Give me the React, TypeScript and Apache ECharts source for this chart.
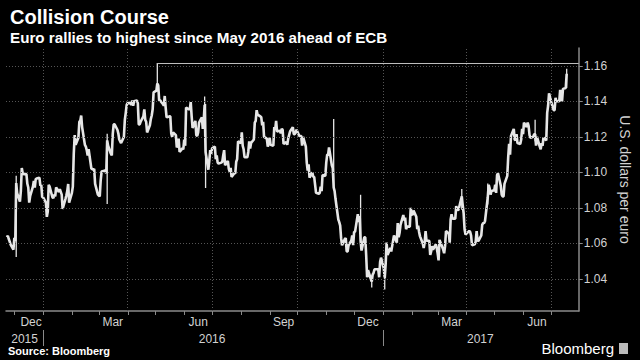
import React, { useEffect, useRef } from "react";
import * as echarts from "echarts";

// Daily EUR/USD closes, one array per month (weekdays in order from the start date)
const nov15 = [1.0635, 1.0643, 1.0625, 1.061, 1.0593, 1.0565];
const dec15 = [1.0632, 1.0613, 1.094, 1.0883, 1.0835, 1.0895, 1.1025, 1.0995, 1.099, 1.099, 1.0936, 1.0915, 1.083, 1.0866, 1.092, 1.0952, 1.0915, 1.0962, 1.0965, 1.097, 1.0925, 1.093, 1.086];
const jan16 = [1.086, 1.083, 1.075, 1.078, 1.093, 1.092, 1.086, 1.0855, 1.0875, 1.0865, 1.0915, 1.089, 1.0905, 1.089, 1.0875, 1.0795, 1.085, 1.087, 1.0895, 1.0935, 1.083];
const feb16 = [1.0885, 1.092, 1.1105, 1.121, 1.1155, 1.1195, 1.1285, 1.129, 1.132, 1.1255, 1.1155, 1.1145, 1.1125, 1.1095, 1.113, 1.102, 1.102, 1.1015, 1.102, 1.0935, 1.0875];
const mar16 = [1.087, 1.0865, 1.0955, 1.1005, 1.101, 1.101, 1.0995, 1.118, 1.115, 1.1105, 1.1095, 1.1215, 1.127, 1.127, 1.124, 1.122, 1.1185, 1.1175, 1.1165, 1.12, 1.1295, 1.1335, 1.138];
const apr16 = [1.139, 1.139, 1.138, 1.1405, 1.1375, 1.14, 1.1405, 1.139, 1.127, 1.127, 1.1285, 1.1315, 1.1355, 1.1295, 1.1285, 1.1225, 1.1265, 1.13, 1.132, 1.1355, 1.145];
const may16 = [1.146, 1.15, 1.149, 1.1405, 1.1405, 1.1385, 1.1375, 1.143, 1.1365, 1.131, 1.1315, 1.1315, 1.122, 1.12, 1.1225, 1.121, 1.114, 1.115, 1.119, 1.1115, 1.1135, 1.113];
const jun16 = [1.1185, 1.115, 1.1365, 1.1355, 1.1355, 1.1395, 1.1315, 1.125, 1.129, 1.121, 1.1205, 1.1225, 1.128, 1.131, 1.1245, 1.1295, 1.138, 1.1115, 1.1015, 1.1065, 1.1125, 1.1105];
const jul16 = [1.1135, 1.1145, 1.1075, 1.1095, 1.1055, 1.105, 1.1055, 1.106, 1.1095, 1.1125, 1.104, 1.1065, 1.102, 1.1005, 1.1025, 1.0975, 1.0995, 1.0995, 1.106, 1.1075, 1.1175];
const aug16 = [1.1165, 1.1225, 1.115, 1.113, 1.1085, 1.1085, 1.1115, 1.1175, 1.1135, 1.1165, 1.1185, 1.128, 1.129, 1.135, 1.1325, 1.1315, 1.131, 1.1265, 1.1285, 1.12, 1.119, 1.1145, 1.116];
const sep16 = [1.1195, 1.1155, 1.115, 1.1255, 1.124, 1.129, 1.123, 1.1235, 1.122, 1.1245, 1.124, 1.116, 1.117, 1.1155, 1.119, 1.121, 1.123, 1.1255, 1.1215, 1.1215, 1.1225, 1.124];
const oct16 = [1.1205, 1.1205, 1.1205, 1.115, 1.12, 1.1145, 1.1055, 1.101, 1.1045, 1.097, 1.1, 1.0975, 1.0975, 1.093, 1.0885, 1.088, 1.0885, 1.092, 1.0895, 1.0985, 1.098];
const nov16 = [1.1055, 1.11, 1.11, 1.114, 1.104, 1.1025, 1.0915, 1.0895, 1.085, 1.0735, 1.072, 1.07, 1.063, 1.059, 1.0625, 1.063, 1.0555, 1.0555, 1.059, 1.0615, 1.0645, 1.059];
const dec16 = [1.0665, 1.0665, 1.0765, 1.072, 1.0755, 1.0615, 1.056, 1.0635, 1.0635, 1.0535, 1.041, 1.045, 1.04, 1.0385, 1.0425, 1.0435, 1.0455, 1.0455, 1.0455, 1.041, 1.0495, 1.052];
const jan17 = [1.046, 1.0405, 1.0485, 1.0605, 1.0535, 1.0575, 1.0555, 1.0585, 1.0615, 1.0645, 1.0605, 1.0715, 1.0635, 1.066, 1.0705, 1.076, 1.073, 1.0745, 1.068, 1.0695, 1.0695, 1.08];
const feb17 = [1.0765, 1.076, 1.0785, 1.075, 1.068, 1.07, 1.0665, 1.064, 1.06, 1.0575, 1.0605, 1.067, 1.0615, 1.0615, 1.0535, 1.0555, 1.0585, 1.0565, 1.0595, 1.0575];
const mar17 = [1.0545, 1.0505, 1.062, 1.058, 1.0565, 1.0545, 1.0585, 1.067, 1.0655, 1.0605, 1.0735, 1.0765, 1.074, 1.074, 1.081, 1.0795, 1.0785, 1.08, 1.0865, 1.0815, 1.077, 1.068, 1.065];
const apr17 = [1.0665, 1.067, 1.0665, 1.0645, 1.059, 1.0595, 1.061, 1.067, 1.0615, 1.0615, 1.0645, 1.0705, 1.0715, 1.0715, 1.0725, 1.086, 1.093, 1.091, 1.0875, 1.0895];
const may17 = [1.09, 1.093, 1.0885, 1.0985, 1.0995, 1.0925, 1.0875, 1.0865, 1.0865, 1.0935, 1.098, 1.1085, 1.116, 1.11, 1.1205, 1.1245, 1.1185, 1.118, 1.1215, 1.1165, 1.116, 1.1185, 1.1245];
const jun17 = [1.1215, 1.128, 1.1255, 1.128, 1.126, 1.121, 1.1195, 1.12, 1.1215, 1.1215, 1.115, 1.12, 1.1145, 1.113, 1.1165, 1.115, 1.1195, 1.118, 1.1335, 1.1375, 1.1445, 1.1425];
const jul17 = [1.1365, 1.135, 1.135, 1.142, 1.14, 1.14, 1.1465, 1.1415, 1.14, 1.147, 1.1475, 1.1555];

const monthStarts: [string, number[]][] = [
  ["2015-11-23", nov15], ["2015-12-01", dec15], ["2016-01-01", jan16], ["2016-02-01", feb16],
  ["2016-03-01", mar16], ["2016-04-01", apr16], ["2016-05-02", may16], ["2016-06-01", jun16],
  ["2016-07-01", jul16], ["2016-08-01", aug16], ["2016-09-01", sep16], ["2016-10-03", oct16],
  ["2016-11-01", nov16], ["2016-12-01", dec16], ["2017-01-02", jan17], ["2017-02-01", feb17],
  ["2017-03-01", mar17], ["2017-04-03", apr17], ["2017-05-01", may17], ["2017-06-01", jun17],
  ["2017-07-03", jul17],
];

// Notable intraday ranges: [date, low, high]
const wicks: [string, number, number][] = [
  ["2015-12-03", 1.0524, 1.0981],
  ["2016-03-10", 1.0822, 1.1218],
  ["2016-05-03", 1.1468, 1.1616],
  ["2016-06-23", 1.13, 1.1427],
  ["2016-06-24", 1.0912, 1.1385],
  ["2016-11-09", 1.0905, 1.13],
  ["2016-12-08", 1.06, 1.0874],
  ["2016-12-20", 1.0352, 1.042],
  ["2017-01-03", 1.0341, 1.0454],
  ["2017-03-27", 1.079, 1.0906],
  ["2017-04-24", 1.082, 1.0937],
  ["2017-06-14", 1.1175, 1.1296],
  ["2017-07-18", 1.1475, 1.1583],
];

const refHigh = 1.1616;
const refStart = "2016-05-03";

const yTicks = [1.04, 1.06, 1.08, 1.1, 1.12, 1.14, 1.16];
const quarterLines = ["2016-01-01", "2016-04-01", "2016-07-01", "2016-10-01", "2017-01-01", "2017-04-01", "2017-07-01"];
const monthTicks = [
  "2015-12-01", "2016-01-01", "2016-02-01", "2016-03-01", "2016-04-01", "2016-05-01", "2016-06-01",
  "2016-07-01", "2016-08-01", "2016-09-01", "2016-10-01", "2016-11-01", "2016-12-01", "2017-01-01",
  "2017-02-01", "2017-03-01", "2017-04-01", "2017-05-01", "2017-06-01", "2017-07-01",
];
const monthLabels: [string, string][] = [
  ["2015-12-19", "Dec"], ["2016-03-16", "Mar"], ["2016-06-16", "Jun"], ["2016-09-16", "Sep"],
  ["2016-12-16", "Dec"], ["2017-03-16", "Mar"], ["2017-06-16", "Jun"],
];
const yearLabels: [string, string][] = [["2015-12-12", "2015"], ["2016-07-01", "2016"], ["2017-04-16", "2017"]];
const yearSeparators = ["2016-01-01", "2017-01-01"];

const X_MIN = "2015-11-22";
const X_MAX = "2017-07-31";
const Y_MIN = 1.022;
const Y_MAX = 1.17;

const ts = (s: string) => Date.parse(s + "T00:00:00Z");

function buildDaily(): [number, number][] {
  const out: [number, number][] = [];
  for (const [startIso, values] of monthStarts) {
    const d = new Date(startIso + "T00:00:00Z");
    let i = 0;
    while (i < values.length) {
      const wd = d.getUTCDay();
      if (wd !== 0 && wd !== 6) {
        out.push([d.getTime(), values[i]]);
        i++;
      }
      d.setUTCDate(d.getUTCDate() + 1);
    }
  }
  return out;
}

const FONT = "'Liberation Sans', Arial, sans-serif";
const AXIS_GRAY = "#8a8a8a";
const LABEL = "#d2d2d2";
const CLEAR = "rgba(0,0,0,0)";

export default function App() {
  const ref = useRef<HTMLDivElement>(null);
  useEffect(() => {
    if (!ref.current) return;
    const chart = echarts.init(ref.current, undefined, { renderer: "svg" });
    const daily = buildDaily();
    const option: any = {
      animation: false,
      backgroundColor: "#000",
      textStyle: { fontFamily: FONT },
      title: [
        { text: "Collision Course", left: 5, top: 2, textStyle: { color: "#fff", fontSize: 20, fontWeight: "bold", fontFamily: FONT } },
        { text: "Euro rallies to highest since May 2016 ahead of ECB", left: 5, top: 25, textStyle: { color: "#fff", fontSize: 15.2, fontWeight: "bold", fontFamily: FONT } },
      ],
      grid: { left: 6, right: 54, top: 48, bottom: 49 },
      xAxis: {
        type: "time",
        min: ts(X_MIN),
        max: ts(X_MAX),
        axisLine: { show: true, lineStyle: { color: AXIS_GRAY, width: 1.5 } },
        axisTick: { show: false },
        axisLabel: { show: false },
        splitLine: { show: false },
      },
      yAxis: {
        type: "value",
        position: "right",
        min: Y_MIN,
        max: Y_MAX,
        axisLine: { show: true, lineStyle: { color: AXIS_GRAY, width: 1.5 } },
        axisTick: { show: true, length: 4, customValues: yTicks, lineStyle: { color: AXIS_GRAY } },
        axisLabel: { customValues: yTicks, color: LABEL, fontSize: 12, margin: 5, formatter: (v: number) => v.toFixed(2) },
        splitLine: { show: false },
        name: "U.S. dollars per euro",
        nameLocation: "middle",
        nameRotate: -90,
        nameGap: 32,
        nameTextStyle: { color: LABEL, fontSize: 14 },
      },
      series: [
        {
          name: "grid",
          type: "line",
          data: [],
          z: 1,
          silent: true,
          markLine: {
            silent: true,
            symbol: ["none", "none"],
            label: { show: false },
            lineStyle: { color: "#555", type: [1, 2], width: 1 },
            data: [
              ...quarterLines.map((q) => ({ xAxis: ts(q) })),
              ...yTicks.map((v) => ({ yAxis: v })),
            ],
          },
        },
        {
          name: "EURUSD",
          type: "line",
          data: daily,
          symbol: "none",
          z: 3,
          lineStyle: { color: "#e6e6e6", width: 2.6 },
          markLine: {
            silent: true,
            symbol: ["none", "none"],
            label: { show: false },
            lineStyle: { color: "#bdbdbd", type: "solid", width: 1 },
            data: [[{ coord: [ts(refStart), refHigh] }, { coord: [ts(X_MAX), refHigh] }]],
          },
        },
        {
          name: "range",
          type: "custom",
          z: 3,
          data: wicks.map(([d, lo, hi]) => [ts(d), lo, hi]),
          encode: { x: 0, y: [1, 2] },
          renderItem: (params: any, api: any) => {
            const a = api.coord([api.value(0), api.value(1)]);
            const b = api.coord([api.value(0), api.value(2)]);
            return {
              type: "line",
              shape: { x1: a[0], y1: a[1], x2: b[0], y2: b[1] },
              style: { stroke: "#e6e6e6", lineWidth: 1.3 },
            };
          },
        },
        {
          name: "axisMarks",
          type: "custom",
          z: 4,
          clip: false,
          silent: true,
          data: [
            ...monthTicks.map((m) => [ts(m), Y_MIN, 0]),
            ...yearSeparators.map((m) => [ts(m), Y_MIN, 1]),
          ],
          encode: { x: 0, y: 1 },
          renderItem: (params: any, api: any) => {
            const p = api.coord([api.value(0), api.value(1)]);
            const isYear = api.value(2) === 1;
            const x = Math.round(p[0]) + 0.5;
            return {
              type: "line",
              shape: isYear
                ? { x1: x, y1: p[1] + 19, x2: x, y2: p[1] + 35 }
                : { x1: x, y1: p[1], x2: x, y2: p[1] + 4 },
              style: { stroke: AXIS_GRAY, lineWidth: 1 },
            };
          },
        },
        {
          name: "monthLabels",
          type: "scatter",
          silent: true,
          clip: false,
          symbolSize: 1,
          itemStyle: { color: CLEAR },
          label: { show: true, position: "bottom", distance: 4, formatter: "{b}", color: LABEL, fontSize: 12, fontFamily: FONT, opacity: 1 },
          data: monthLabels.map(([d, n]) => ({ name: n, value: [ts(d), Y_MIN] })),
        },
        {
          name: "yearLabels",
          type: "scatter",
          silent: true,
          clip: false,
          symbolSize: 1,
          itemStyle: { color: CLEAR },
          label: { show: true, position: "bottom", distance: 21, formatter: "{b}", color: LABEL, fontSize: 12, fontFamily: FONT, opacity: 1 },
          data: yearLabels.map(([d, n]) => ({ name: n, value: [ts(d), Y_MIN] })),
        },
      ],
      graphic: [
        { type: "text", left: 8, top: 345, style: { text: "Source: Bloomberg", fill: "#fff", font: `bold 11px ${FONT}` } },
        { type: "text", right: 26, top: 341, style: { text: "Bloomberg", fill: "#fff", font: `15px ${FONT}` } },
        { type: "rect", right: 12, top: 343, shape: { width: 9, height: 11 }, style: { fill: "#bbb" } },
      ],
    };
    chart.setOption(option);
    return () => chart.dispose();
  }, []);
  return <div ref={ref} style={{ width: 640, height: 360, position: "fixed", left: 0, top: 0 }} />;
}
